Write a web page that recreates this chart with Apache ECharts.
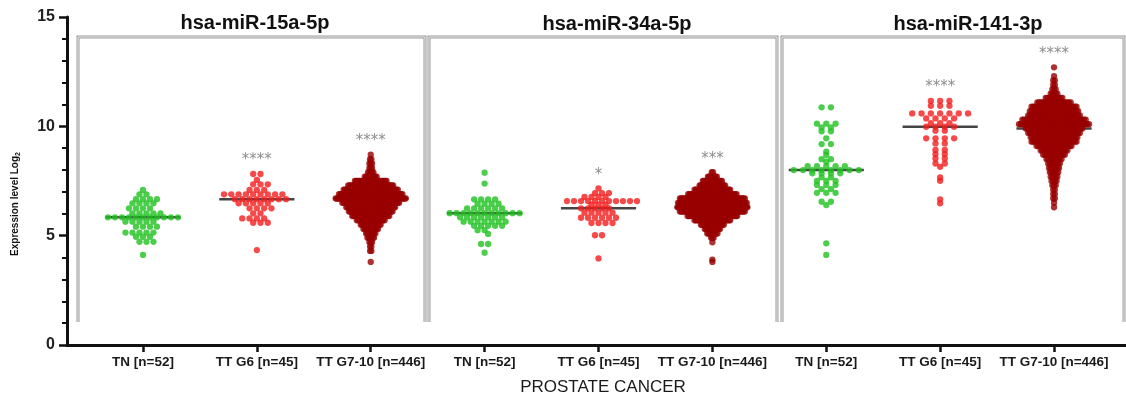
<!DOCTYPE html>
<html>
<head>
<meta charset="utf-8">
<script src="https://cdn.jsdelivr.net/npm/echarts@6/dist/echarts.min.js"></script>
<style>
html,body{margin:0;padding:0;background:#fff;}
#chart{width:1126px;height:398px;}
</style>
</head>
<body>
<div id="chart"></div>
<script>
// ---------------- DATA ----------------
const panelTitles = ['hsa-miR-15a-5p', 'hsa-miR-34a-5p', 'hsa-miR-141-3p'];
const categories = ['TN [n=52]', 'TT G6 [n=45]', 'TT G7-10 [n=446]'];
const yTicks = [0, 5, 10, 15];
const xAxisTitle = 'PROSTATE CANCER';
const yAxisTitle = 'Expression level Log';
const yAxisTitleSub = '2';
const sigMarks = [['', '****', '****'], ['', '*', '***'], ['', '****', '****']];

// hsa-miR-15a-5p
const tn15a = [7.09, 6.89, 6.89, 6.67, 6.67, 6.67, 6.67, 6.48, 6.48, 6.48, 6.48,
  6.25, 6.25, 6.25, 6.25, 6.02, 6.02, 6.02, 6.02, 6.02,
  5.84, 5.84, 5.84, 5.84, 5.84, 5.84, 5.84, 5.84, 5.84, 5.84, 5.84,
  5.64, 5.64, 5.64, 5.64, 5.64, 5.41, 5.41, 5.41, 5.41,
  5.14, 5.14, 5.14, 5.14, 5.14, 4.95, 4.95, 4.95, 4.72, 4.72, 4.72, 4.12];
const g6_15a = [7.82, 7.82, 7.55, 7.35, 7.35, 7.35, 7.09, 7.09, 7.09,
  6.89, 6.89, 6.89, 6.89, 6.89, 6.89, 6.89, 6.89, 6.89,
  6.67, 6.67, 6.67, 6.67, 6.67, 6.67, 6.67, 6.67,
  6.48, 6.48, 6.48, 6.48, 6.48, 6.25, 6.25, 6.25, 6.25, 6.02, 6.02,
  5.79, 5.79, 5.79, 5.79, 5.59, 5.59, 5.59, 4.34];
const g710_15a_levels = [8.7, 8.5, 8.3, 8.1, 7.9, 7.7, 7.5, 7.3, 7.1, 6.9, 6.7, 6.5, 6.3, 6.1, 5.9, 5.7, 5.5, 5.3, 5.1, 4.9, 4.7, 4.5, 4.3, 3.8];
const g710_15a_counts = [1, 2, 3, 3, 5, 10, 25, 35, 42, 49, 54, 44, 38, 34, 29, 22, 16, 12, 8, 6, 3, 2, 2, 1];

// hsa-miR-34a-5p
const tn34a = [7.88, 7.38, 6.66, 6.66, 6.66, 6.66, 6.46, 6.46, 6.46, 6.46,
  6.25, 6.25, 6.25, 6.25, 6.25, 6.25,
  6.03, 6.03, 6.03, 6.03, 6.03, 6.03, 6.03, 6.03, 6.03, 6.03, 6.03,
  5.84, 5.84, 5.84, 5.84, 5.84, 5.84, 5.84,
  5.64, 5.64, 5.64, 5.64, 5.64, 5.64, 5.64, 5.45, 5.45, 5.45, 5.45, 5.45,
  5.25, 5.25, 5.08, 4.62, 4.62, 4.22];
const g6_34a = [7.16, 6.95, 6.95, 6.95, 6.77, 6.77, 6.77, 6.77,
  6.58, 6.58, 6.58, 6.58, 6.58, 6.58, 6.58, 6.58, 6.58, 6.58, 6.58, 6.42, 6.42, 6.42,
  6.25, 6.25, 6.25, 6.25, 6.25, 6.05, 6.05, 6.05, 6.05, 6.05,
  5.82, 5.82, 5.82, 5.82, 5.82, 5.82, 5.58, 5.58, 5.58, 5.58, 5.02, 5.02, 3.96];
const g710_34a_levels = [7.9, 7.7, 7.5, 7.3, 7.1, 6.9, 6.7, 6.5, 6.3, 6.1, 5.9, 5.7, 5.5, 5.3, 5.1, 4.9, 4.7, 3.9, 3.8];
const g710_34a_counts = [2, 8, 16, 21, 29, 39, 52, 55, 56, 52, 40, 29, 19, 13, 9, 3, 1, 1, 1];

// hsa-miR-141-3p
const tn141 = [10.87, 10.87, 10.12, 10.12, 10.12, 9.95, 9.95, 9.77, 9.77, 9.45,
  9.19, 9.19, 8.84, 8.69, 8.5, 8.5, 8.38, 8.18, 8.18, 8.18, 8.18, 8.18,
  8.0, 8.0, 8.0, 8.0, 8.0, 8.0, 8.0, 8.0, 7.85, 7.85, 7.85, 7.85, 7.67, 7.67,
  7.51, 7.51, 7.51, 7.32, 7.32, 7.32, 7.13, 7.13, 6.96, 6.96, 6.96,
  6.55, 6.55, 6.4, 4.65, 4.12];
const g6_141 = [11.16, 11.16, 11.16, 10.94, 10.94, 10.94,
  10.59, 10.59, 10.59, 10.59, 10.59, 10.59, 10.59,
  10.36, 10.36, 10.36, 10.36, 10.14, 10.14, 10.14, 9.98, 9.98, 9.98, 9.98,
  9.8, 9.8, 9.45, 9.45, 9.45, 9.45, 9.22, 9.22, 8.92, 8.92, 8.73, 8.73,
  8.53, 8.53, 8.3, 8.3, 8.15, 7.66, 7.51, 6.66, 6.48];
const g710_141_levels = [12.7, 12.3, 12.1, 11.9, 11.7, 11.5, 11.3, 11.1, 10.9, 10.7, 10.5, 10.3, 10.1, 9.9, 9.7, 9.5, 9.3, 9.1, 8.9, 8.7, 8.5, 8.3, 8.1, 7.9, 7.7, 7.5, 7.3, 7.1, 6.9, 6.7, 6.5, 6.3];
const g710_141_counts = [1, 1, 2, 2, 3, 5, 11, 21, 28, 30, 32, 39, 43, 35, 32, 29, 28, 22, 17, 14, 10, 8, 7, 6, 5, 4, 3, 2, 2, 2, 1, 1];

// ---------------- BUILD ----------------
function expand(levels, counts) {
  const out = [];
  levels.forEach((v, i) => { for (let k = 0; k < counts[i]; k++) out.push(v); });
  return out;
}
const groups = [
  tn15a, g6_15a, expand(g710_15a_levels, g710_15a_counts),
  tn34a, g6_34a, expand(g710_34a_levels, g710_34a_counts),
  tn141, g6_141, expand(g710_141_levels, g710_141_counts)
];
const groupColors = ['#1fc21f', '#f41c1c', '#990000'];

function median(arr) {
  const s = arr.slice().sort((a, b) => a - b);
  const m = s.length >> 1;
  return s.length % 2 ? s[m] : (s[m - 1] + s[m]) / 2;
}

// layout constants (pixels)
const X_MIN = 1 - 0.667, X_MAX = 9 + 0.632;
const DOT = 6.3, MAX_ROW_W = 70, HALF_MED = 0.33;
const panelDotStep = [7.3, 7.3, 9.3];
const positions = [1, 2, 3, 4, 5, 6, 7, 8, 9];
const panelPx = [[78, 425], [429, 777], [782, 1124]];
const boxTop = 37, boxBottom = 322;
const titleX = [255, 617, 968], titleY = [23, 24, 24];

const chart = echarts.init(document.getElementById('chart'));
const base = {
  animation: false,
  backgroundColor: '#ffffff',
  grid: { left: 67, right: 0, top: 17, bottom: 53 },
  xAxis: {
    type: 'value', min: X_MIN, max: X_MAX,
    axisLine: { show: true, onZero: false, lineStyle: { color: '#111', width: 3 } },
    axisTick: { show: true, customValues: positions, length: 7, lineStyle: { color: '#111', width: 2.5 } },
    axisLabel: {
      customValues: positions, margin: 10,
      formatter: v => categories[(Math.round(v) - 1) % 3],
      fontFamily: 'Liberation Sans', fontSize: 13.5, fontWeight: 'bold', color: '#1a1a1a'
    },
    splitLine: { show: false }
  },
  yAxis: {
    type: 'value', min: yTicks[0], max: yTicks[yTicks.length - 1], interval: yTicks[1] - yTicks[0],
    axisLine: { show: true, onZero: false, lineStyle: { color: '#111', width: 3 } },
    axisTick: { show: true, length: 8, lineStyle: { color: '#111', width: 2.5 } },
    minorTick: { show: true, splitNumber: 5, length: 5, lineStyle: { color: '#111', width: 2 } },
    axisLabel: { margin: 12, fontFamily: 'Liberation Sans', fontSize: 16, fontWeight: 'bold', color: '#222' },
    splitLine: { show: false }, minorSplitLine: { show: false }
  },
  series: [{ type: 'scatter', data: [] }]
};
chart.setOption(base);

let pxPerUnit = chart.convertToPixel({ xAxisIndex: 0 }, 2) - chart.convertToPixel({ xAxisIndex: 0 }, 1);
if (!isFinite(pxPerUnit) || pxPerUnit <= 0) pxPerUnit = 1059 / (X_MAX - X_MIN);
let pxPerY = chart.convertToPixel({ yAxisIndex: 0 }, 0) - chart.convertToPixel({ yAxisIndex: 0 }, 1);
if (!isFinite(pxPerY) || pxPerY <= 0) pxPerY = 328 / 15;

// Prism-like row layout: equal values form a centred row; close rows are staggered.
function layoutGroup(values, center, dotStep) {
  const rows = new Map();
  values.forEach(v => rows.set(v, (rows.get(v) || 0) + 1));
  const maxN = Math.max(...rows.values());
  const step = maxN > 1 ? Math.min(dotStep, MAX_ROW_W / (maxN - 1)) : dotStep;
  const stagger = step >= 7 && step < 8;
  const keys = [...rows.keys()].sort((a, b) => b - a);
  const pts = [];
  let prevV = null, prevPhase = null, flip = 1;
  keys.forEach(v => {
    const n = rows.get(v);
    let shift = 0;
    let phase = ((n - 1) / 2) % 1;
    if (stagger && prevV !== null && (prevV - v) * pxPerY < DOT && Math.abs(phase - prevPhase) < 0.01) {
      shift = flip * step / 2; flip = -flip;
      phase = (phase + 0.5) % 1;
    }
    for (let k = 0; k < n; k++) {
      const off = (k - (n - 1) / 2) * step + shift;
      pts.push([center + off / pxPerUnit, v]);
    }
    prevV = v; prevPhase = phase;
  });
  return pts;
}

const series = [];
const starData = [];
groups.forEach((vals, gi) => {
  const center = positions[gi];
  const panel = Math.floor(gi / 3);
  const med = median(vals);
  series.push({
    type: 'line', data: [[center - HALF_MED, med], [center + HALF_MED, med]],
    symbol: 'none', lineStyle: { color: '#454545', width: 2.5 }, z: 1, silent: true
  });
  series.push({
    type: 'scatter', data: layoutGroup(vals, center, panelDotStep[panel]), symbol: 'circle', symbolSize: DOT,
    itemStyle: { color: groupColors[gi % 3] }, z: 3, silent: true
  });
  const mark = sigMarks[panel][gi % 3];
  if (mark) starData.push([center, Math.max(...vals) + 0.8, mark]);
});
series.push({
  type: 'scatter', data: starData, symbolSize: 1, itemStyle: { color: 'rgba(0,0,0,0)' }, z: 4, silent: true,
  label: {
    show: true, position: 'inside', offset: [0, 4], formatter: p => p.data[2],
    fontFamily: 'DejaVu Sans', fontSize: 15, color: '#707070'
  }
});

const graphic = [];
panelPx.forEach(([x0, x1], i) => {
  const pts = [[x0, boxBottom], [x0, boxTop], [x1, boxTop], [x1, boxBottom]];
  graphic.push({ type: 'polyline', z: 0, silent: true, shape: { points: pts }, style: { stroke: '#999999', lineWidth: 3, fill: null } });
  graphic.push({ type: 'polyline', z: 0, silent: true, shape: { points: pts }, style: { stroke: '#eeeeee', lineWidth: 1, fill: null } });
  graphic.push({
    type: 'text', x: titleX[i], y: titleY[i], z: 5, silent: true,
    style: { text: panelTitles[i], fontFamily: 'Liberation Sans', fontSize: 20, fontWeight: 'bold', fill: '#111', textAlign: 'center', textVerticalAlign: 'middle' }
  });
});
graphic.push({
  type: 'text', x: 603, y: 387, z: 5, silent: true,
  style: { text: xAxisTitle, fontFamily: 'Liberation Sans', fontSize: 17, fill: '#1a1a1a', textAlign: 'center', textVerticalAlign: 'middle' }
});
graphic.push({
  type: 'text', x: 15, y: 204, rotation: Math.PI / 2, z: 5, silent: true,
  style: {
    text: '{b|' + yAxisTitle + '}{s|' + yAxisTitleSub + '}', textAlign: 'center', textVerticalAlign: 'middle',
    rich: {
      b: { fontFamily: 'Liberation Sans', fontSize: 10, fontWeight: 'bold', fill: '#111', lineHeight: 14, verticalAlign: 'middle' },
      s: { fontFamily: 'Liberation Sans', fontSize: 7, fontWeight: 'bold', fill: '#111', lineHeight: 14, verticalAlign: 'bottom' }
    }
  }
});

chart.setOption({ series: series, graphic: graphic }, { replaceMerge: ['series'] });
</script>
</body>
</html>
